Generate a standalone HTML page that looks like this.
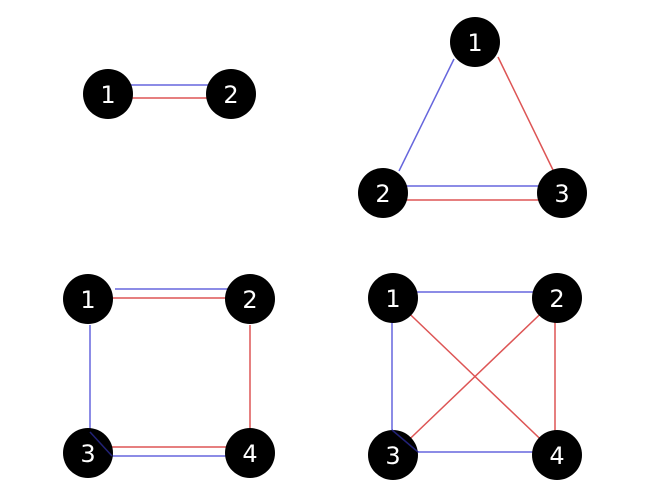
<!DOCTYPE html>
<html><head><style>
html,body{margin:0;padding:0;background:#fff;}
svg{display:block;}
text{font-family:"DejaVu Sans","Liberation Sans",sans-serif;font-size:24px;fill:#fff;text-anchor:middle;dominant-baseline:central;}
</style></head><body>
<svg width="650" height="500" viewBox="0 0 650 500">
<g stroke-width="1.5" fill="none">
<!-- D1 -->
<line x1="130" y1="85" x2="215" y2="85" stroke="#6666dd"/>
<line x1="130" y1="98" x2="212" y2="98" stroke="#dd5555"/>
<!-- D2 -->
<line x1="454" y1="59" x2="399" y2="171" stroke="#6666dd"/>
<line x1="498" y1="57" x2="553" y2="170" stroke="#dd5555"/>
<line x1="405" y1="186" x2="545" y2="186" stroke="#6666dd"/>
<line x1="405" y1="200" x2="542" y2="200" stroke="#dd5555"/>
<!-- D3 -->
<line x1="115" y1="289" x2="232" y2="289" stroke="#6666dd"/>
<line x1="110" y1="298" x2="227" y2="298" stroke="#dd5555"/>
<line x1="90" y1="325" x2="90" y2="432" stroke="#6666dd"/>
<line x1="250" y1="325" x2="250" y2="432" stroke="#dd5555"/>
<line x1="112" y1="447" x2="228" y2="447" stroke="#dd5555"/>
<line x1="112" y1="456" x2="228" y2="456" stroke="#6666dd"/>
<!-- D4 -->
<line x1="393" y1="292" x2="540" y2="292" stroke="#6666dd"/>
<line x1="392" y1="298" x2="392" y2="430" stroke="#6666dd"/>
<line x1="418" y1="452" x2="540" y2="452" stroke="#6666dd"/>
<line x1="555" y1="298" x2="555" y2="455" stroke="#dd5555"/>
<line x1="393" y1="298" x2="557" y2="455" stroke="#dd5555"/>
<line x1="557" y1="298" x2="393" y2="455" stroke="#dd5555"/>
</g>
<g fill="#000">
<circle cx="108" cy="94" r="25"/><circle cx="231" cy="94" r="25"/>
<circle cx="475" cy="42" r="25"/><circle cx="383" cy="193" r="25"/><circle cx="562" cy="193" r="25"/>
<circle cx="88" cy="299" r="25"/><circle cx="250" cy="299" r="25"/><circle cx="88" cy="453" r="25"/><circle cx="250" cy="453" r="25"/>
<circle cx="393" cy="298" r="25"/><circle cx="557" cy="298" r="25"/><circle cx="393" cy="455" r="25"/><circle cx="557" cy="455" r="25"/>
</g>
<g stroke="#222277" stroke-width="1.5">
<line x1="90" y1="432" x2="112" y2="456"/>
<line x1="392" y1="430" x2="418" y2="452"/>
</g>
<text x="108" y="95">1</text><text x="231" y="95">2</text>
<text x="475" y="43">1</text><text x="383" y="194">2</text><text x="562" y="194">3</text>
<text x="88" y="300">1</text><text x="250" y="300">2</text><text x="88" y="454">3</text><text x="250" y="454">4</text>
<text x="393" y="299">1</text><text x="557" y="299">2</text><text x="393" y="456">3</text><text x="557" y="456">4</text>
</svg>
</body></html>
